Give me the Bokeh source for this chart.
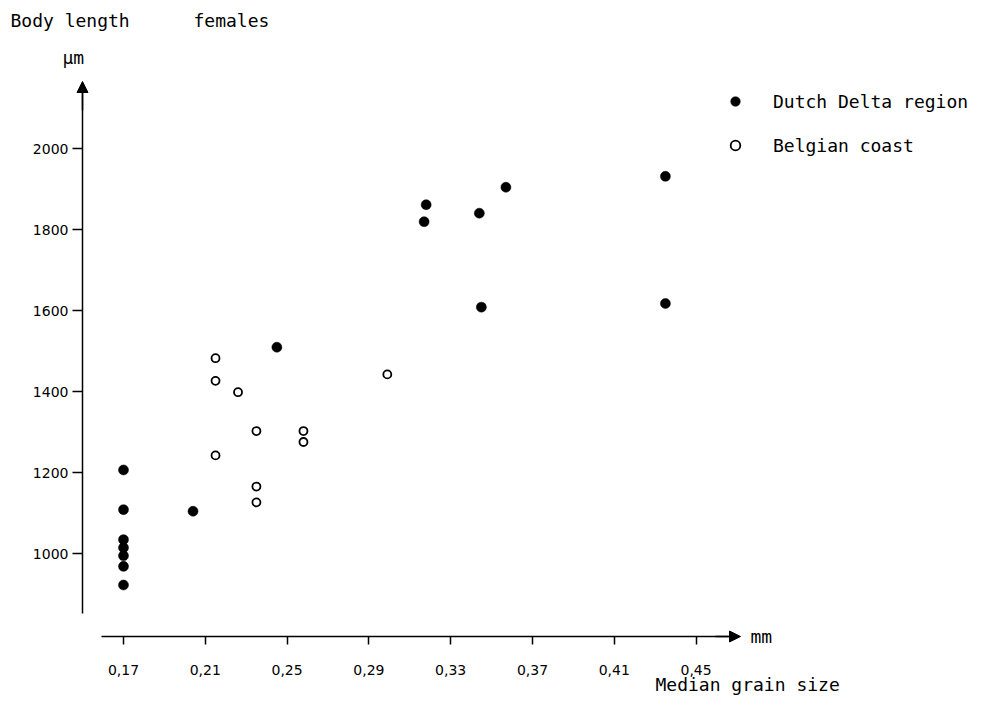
from bokeh.plotting import figure
from bokeh.models import (Range1d, LinearAxis, FixedTicker, Label, Arrow,
                          NormalHead, Legend, LegendItem)
from bokeh.embed import file_html
from bokeh.resources import INLINE

# ---------------- data ----------------
grain_ticks = [0.17, 0.21, 0.25, 0.29, 0.33, 0.37, 0.41, 0.45]
grain_tick_labels = ["0,17", "0,21", "0,25", "0,29", "0,33", "0,37", "0,41", "0,45"]
length_ticks = [1000, 1200, 1400, 1600, 1800, 2000]
length_tick_labels = ["1000", "1200", "1400", "1600", "1800", "2000"]

dutch_grain = [0.17, 0.17, 0.17, 0.17, 0.17, 0.17, 0.17, 0.204, 0.245,
               0.318, 0.317, 0.344, 0.345, 0.357, 0.435, 0.435]
dutch_length = [1207, 1109, 1035, 1015, 995, 969, 923, 1105, 1510,
                1862, 1820, 1841, 1609, 1905, 1932, 1618]

belgian_grain = [0.215, 0.215, 0.215, 0.226, 0.235, 0.235, 0.235, 0.258, 0.258, 0.299]
belgian_length = [1483, 1427, 1243, 1399, 1303, 1166, 1127, 1303, 1276, 1443]

# ---------------- layout ----------------
W, H = 980, 696
PX_PER_X = 2045.0      # pixels per mm of grain size
PX_PER_Y = 0.405       # pixels per um of body length
XS = 0.17 - 123 / PX_PER_X          # data x at the left edge of the canvas
YT = 1000 + 553.3 / PX_PER_Y        # data y at the top edge of the canvas
x_range = Range1d(XS, XS + W / PX_PER_X)
y_range = Range1d(YT - H / PX_PER_Y, YT)


def dx(px):  # picture pixel -> data x
    return XS + px / PX_PER_X


def dy(py):  # picture pixel -> data y
    return YT - py / PX_PER_Y


FONT = "DejaVu Sans"
LETTER_FONT = "DejaVu Sans Mono"
X_AXIS_Y = dy(636)
Y_AXIS_X = dx(82)

p = figure(width=W, height=H, x_range=x_range, y_range=y_range,
           output_backend="svg", toolbar_location=None,
           x_axis_type=None, y_axis_type=None,
           min_border_left=0, min_border_right=0,
           min_border_top=0, min_border_bottom=0)
p.outline_line_color = None
p.background_fill_color = "white"
p.border_fill_color = "white"

xaxis = LinearAxis(
    fixed_location=X_AXIS_Y,
    ticker=FixedTicker(ticks=grain_ticks),
    major_label_overrides={t: l for t, l in zip(grain_ticks, grain_tick_labels)},
    bounds=(dx(101), dx(738)),
    axis_line_color="black", axis_line_width=1.5,
    major_tick_out=8, major_tick_in=0, major_tick_line_width=1.5,
    minor_tick_out=0, minor_tick_in=0,
    major_label_standoff=20,
    major_label_text_font=FONT, major_label_text_font_size="14px",
    major_label_text_color="black",
)
p.add_layout(xaxis, "below")

yaxis = LinearAxis(
    fixed_location=Y_AXIS_X,
    ticker=FixedTicker(ticks=length_ticks),
    major_label_overrides={t: l for t, l in zip(length_ticks, length_tick_labels)},
    bounds=(dy(613), dy(83)),
    axis_line_color="black", axis_line_width=1.5,
    major_tick_out=10, major_tick_in=0, major_tick_line_width=1.5,
    minor_tick_out=0, minor_tick_in=0,
    major_label_standoff=4,
    major_label_text_font=FONT, major_label_text_font_size="14px",
    major_label_text_color="black",
)
p.add_layout(yaxis, "left")

# arrow heads at the ends of the axes
p.add_layout(Arrow(end=NormalHead(size=11, fill_color="black", line_color="black", line_width=1),
                   x_start=dx(715), y_start=X_AXIS_Y, x_end=dx(740), y_end=X_AXIS_Y,
                   line_color="black", line_width=1.5))
p.add_layout(Arrow(end=NormalHead(size=11, fill_color="black", line_color="black", line_width=1),
                   x_start=Y_AXIS_X, y_start=dy(110), x_end=Y_AXIS_X, y_end=dy(81),
                   line_color="black", line_width=1.5))

r_dutch = p.scatter(dutch_grain, dutch_length, marker="circle", size=10,
                    fill_color="black", line_color="black", line_width=0.5)
r_belg = p.scatter(belgian_grain, belgian_length, marker="circle", size=8,
                   fill_color="white", line_color="black", line_width=1.8)

legend = Legend(items=[LegendItem(label="Dutch Delta region", renderers=[r_dutch]),
                       LegendItem(label="Belgian coast", renderers=[r_belg])],
                location=(723, 539), orientation="vertical",
                border_line_color=None, background_fill_alpha=0,
                padding=0, margin=0, glyph_width=24, glyph_height=24,
                label_height=24, label_standoff=26, spacing=20,
                label_text_font=LETTER_FONT, label_text_font_size="18px",
                label_text_color="black")
p.add_layout(legend)

texts = [
    ("Body length", 10, 20),
    ("females", 193, 20),
    ("\u00b5m", 62, 57),
    ("mm", 750, 636),
    ("Median grain size", 655, 684),
]
for t, px, py in texts:
    p.add_layout(Label(x=dx(px), y=dy(py), text=t, text_align="left",
                       text_baseline="middle", text_font=LETTER_FONT,
                       text_font_size="18px", text_color="black"))

open("out.html", "w").write(file_html(p, INLINE))
